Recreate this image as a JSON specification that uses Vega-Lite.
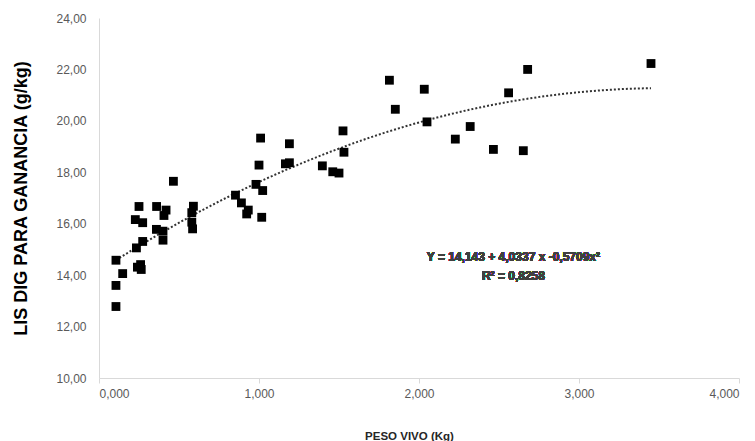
{
  "$schema": "https://vega.github.io/schema/vega-lite/v6.json",
  "autosize": {"type": "none"},
  "padding": {"left": 99, "top": 18, "right": 16, "bottom": 63},
  "width": 640,
  "height": 360,
  "background": "white",
  "config": {"view": {"stroke": null}},
  "data": {"values": [
    {"peso": 0.106, "lis": 14.58}, {"peso": 0.148, "lis": 14.06}, {"peso": 0.106, "lis": 13.60}, {"peso": 0.106, "lis": 12.78},
    {"peso": 0.250, "lis": 16.67}, {"peso": 0.227, "lis": 16.16}, {"peso": 0.273, "lis": 16.04}, {"peso": 0.360, "lis": 16.67},
    {"peso": 0.419, "lis": 16.53}, {"peso": 0.406, "lis": 16.32}, {"peso": 0.359, "lis": 15.78}, {"peso": 0.400, "lis": 15.71},
    {"peso": 0.400, "lis": 15.36}, {"peso": 0.273, "lis": 15.31}, {"peso": 0.234, "lis": 15.06}, {"peso": 0.240, "lis": 14.31},
    {"peso": 0.260, "lis": 14.41}, {"peso": 0.264, "lis": 14.22}, {"peso": 0.465, "lis": 17.65}, {"peso": 0.590, "lis": 16.68},
    {"peso": 0.580, "lis": 16.43}, {"peso": 0.580, "lis": 16.06}, {"peso": 0.585, "lis": 15.80}, {"peso": 0.853, "lis": 17.11},
    {"peso": 0.890, "lis": 16.81}, {"peso": 0.933, "lis": 16.53}, {"peso": 0.923, "lis": 16.38}, {"peso": 0.981, "lis": 17.53},
    {"peso": 1.023, "lis": 17.29}, {"peso": 1.017, "lis": 16.25}, {"peso": 2.679, "lis": 22.00}, {"peso": 1.815, "lis": 21.58},
    {"peso": 2.033, "lis": 21.23}, {"peso": 2.560, "lis": 21.09}, {"peso": 1.852, "lis": 20.45}, {"peso": 2.050, "lis": 19.96},
    {"peso": 2.320, "lis": 19.78}, {"peso": 2.227, "lis": 19.29}, {"peso": 2.465, "lis": 18.89}, {"peso": 2.652, "lis": 18.84},
    {"peso": 1.525, "lis": 19.61}, {"peso": 1.531, "lis": 18.78}, {"peso": 1.396, "lis": 18.25}, {"peso": 1.461, "lis": 18.02},
    {"peso": 1.500, "lis": 17.97}, {"peso": 1.010, "lis": 19.33}, {"peso": 1.000, "lis": 18.28}, {"peso": 1.190, "lis": 19.11},
    {"peso": 1.165, "lis": 18.33}, {"peso": 1.190, "lis": 18.37}, {"peso": 3.450, "lis": 22.23}
  ]},
  "encoding": {
    "x": {
      "field": "peso", "type": "quantitative",
      "scale": {"domain": [0, 4], "nice": false, "zero": false},
      "axis": {
        "title": "PESO VIVO (Kg)",
        "values": [0, 1, 2, 3, 4],
        "labelExpr": "replace(format(datum.value, '.3f'), '.', ',')",
        "grid": false,
        "domainColor": "#d9d9d9", "tickColor": "#d9d9d9", "tickSize": 5,
        "labelColor": "#595959", "labelFont": "Liberation Sans", "labelFontSize": 12, "labelPadding": 5,
        "titleFont": "Liberation Sans", "titleFontSize": 11.5, "titleFontWeight": "bold", "titleColor": "#262626",
        "titleX": 310, "titleY": 61, "titleAlign": "center", "titleBaseline": "alphabetic"
      }
    },
    "y": {
      "field": "lis", "type": "quantitative",
      "scale": {"domain": [10, 24], "nice": false, "zero": false},
      "axis": {
        "title": "LIS DIG PARA GANANCIA (g/kg)",
        "values": [10, 12, 14, 16, 18, 20, 22, 24],
        "labelExpr": "replace(format(datum.value, '.2f'), '.', ',')",
        "grid": false, "ticks": false,
        "domainColor": "#d9d9d9",
        "labelColor": "#595959", "labelFont": "Liberation Sans", "labelFontSize": 12, "labelPadding": 13,
        "titleFont": "Liberation Sans", "titleFontSize": 18, "titleFontWeight": "bold", "titleColor": "#000000",
        "titleX": -78, "titleY": 180, "titleAngle": -90, "titleAlign": "center", "titleBaseline": "middle"
      }
    }
  },
  "layer": [
    {
      "transform": [{"regression": "lis", "on": "peso", "method": "poly", "order": 2}],
      "mark": {"type": "line", "color": "#333333", "strokeWidth": 2, "strokeDash": [2, 2]}
    },
    {
      "mark": {"type": "point", "shape": "square", "filled": true, "color": "#000000", "opacity": 1, "size": 78}
    },
    {
      "mark": {"type": "text", "text": "Y = 14,143 + 4,0337 x -0,5709x²", "font": "Liberation Sans", "fontSize": 12, "fontWeight": "bold", "color": "#404040", "align": "center", "baseline": "middle"},
      "encoding": {"x": {"datum": 2.59}, "y": {"datum": 14.71}}
    },
    {
      "mark": {"type": "text", "text": "R² = 0,8258", "font": "Liberation Sans", "fontSize": 12, "fontWeight": "bold", "color": "#404040", "align": "center", "baseline": "middle"},
      "encoding": {"x": {"datum": 2.59}, "y": {"datum": 13.97}}
    }
  ]
}
